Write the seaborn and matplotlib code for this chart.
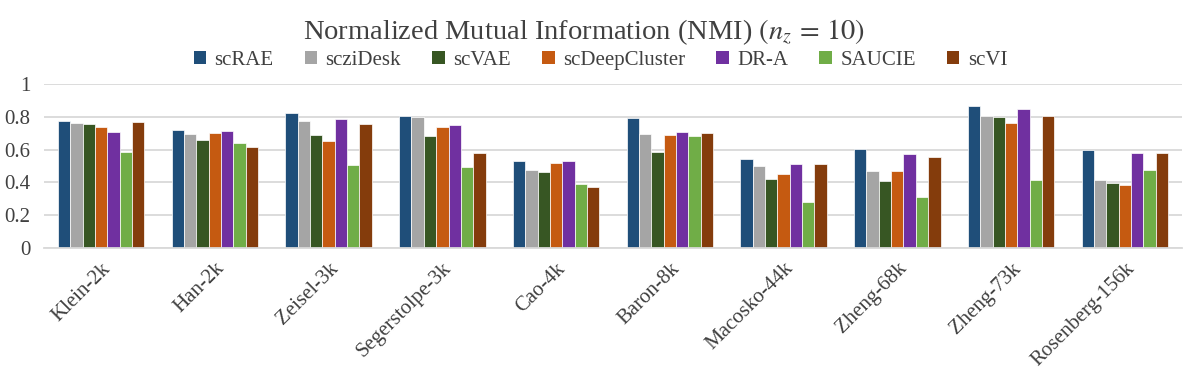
import pandas as pd
import matplotlib
matplotlib.use("Agg")
import matplotlib.pyplot as plt
import seaborn as sns
from matplotlib.patches import Patch

# datasets and methods
datasets = ['Klein-2k', 'Han-2k', 'Zeisel-3k', 'Segerstolpe-3k', 'Cao-4k',
            'Baron-8k', 'Macosko-44k', 'Zheng-68k', 'Zheng-73k', 'Rosenberg-156k']
methods = ['scRAE', 'scziDesk', 'scVAE', 'scDeepCluster', 'DR-A', 'SAUCIE', 'scVI']

# NMI values (one list per method, in dataset order)
scRAE = [0.771, 0.718, 0.822, 0.807, 0.531, 0.791, 0.542, 0.606, 0.862, 0.600]
scziDesk = [0.761, 0.696, 0.775, 0.797, 0.475, 0.694, 0.499, 0.469, 0.807, 0.414]
scVAE = [0.753, 0.659, 0.688, 0.682, 0.460, 0.586, 0.422, 0.408, 0.795, 0.396]
scDeepCluster = [0.738, 0.702, 0.653, 0.740, 0.519, 0.688, 0.450, 0.469, 0.759, 0.383]
DR_A = [0.706, 0.710, 0.785, 0.748, 0.533, 0.706, 0.511, 0.572, 0.846, 0.580]
SAUCIE = [0.586, 0.639, 0.507, 0.493, 0.391, 0.682, 0.282, 0.312, 0.416, 0.473]
scVI = [0.765, 0.615, 0.757, 0.578, 0.373, 0.698, 0.511, 0.554, 0.803, 0.578]

colors = ['#1F4E79', '#A5A5A5', '#375623', '#C55A11', '#7030A0', '#70AD47', '#843C0C']

# long format table for seaborn
values = [scRAE, scziDesk, scVAE, scDeepCluster, DR_A, SAUCIE, scVI]
rows = []
for m, vals in zip(methods, values):
    for d, v in zip(datasets, vals):
        rows.append({'Dataset': d, 'Method': m, 'NMI': v})
df = pd.DataFrame(rows)

sns.set_style('white')
plt.rcParams['font.family'] = ['Liberation Serif', 'DejaVu Serif']
plt.rcParams['mathtext.fontset'] = 'stix'
text_color = '#404040'

fig = plt.figure(figsize=(11.96, 3.81), dpi=100)
ax = fig.add_axes([0.037, 0.349, 0.951, 0.431])

sns.barplot(data=df, x='Dataset', y='NMI', hue='Method', order=datasets,
            hue_order=methods, palette=colors, width=0.76, gap=0,
            edgecolor='white', linewidth=0.5, saturation=1, ax=ax, legend=False)

ax.set_ylim(0, 1)
ax.set_xlim(-0.5, len(datasets) - 0.5)
ax.set_yticks([0, 0.2, 0.4, 0.6, 0.8, 1])
ax.set_yticklabels(['0', '0.2', '0.4', '0.6', '0.8', '1'])
ax.yaxis.grid(True, color='#d9d9d9', linewidth=1.3)
ax.set_axisbelow(True)
ax.set_xlabel('')
ax.set_ylabel('')
for s in ['top', 'right', 'left']:
    ax.spines[s].set_visible(False)
ax.spines['bottom'].set_color('#d9d9d9')
ax.spines['bottom'].set_linewidth(1.3)

ax.tick_params(axis='y', length=0, pad=10, labelsize=15, labelcolor=text_color)
ax.tick_params(axis='x', length=0, pad=8, labelsize=15, labelcolor=text_color)
plt.setp(ax.get_xticklabels(), rotation=45, ha='right', rotation_mode='anchor')

fig.text(0.488, 0.915, r'Normalized Mutual Information (NMI) $(n_z\,=\,10)$',
         ha='center', va='center', fontsize=20.5, color=text_color)

handles = [Patch(facecolor=c, edgecolor='none', label=m) for m, c in zip(methods, colors)]
leg = fig.legend(handles=handles, loc='center', bbox_to_anchor=(0.502, 0.842), ncol=7,
                 frameon=False, fontsize=15, handlelength=0.6, handleheight=0.6,
                 handletextpad=0.4, columnspacing=1.5)
for t in leg.get_texts():
    t.set_color(text_color)

fig.savefig('out.png', dpi=100)
